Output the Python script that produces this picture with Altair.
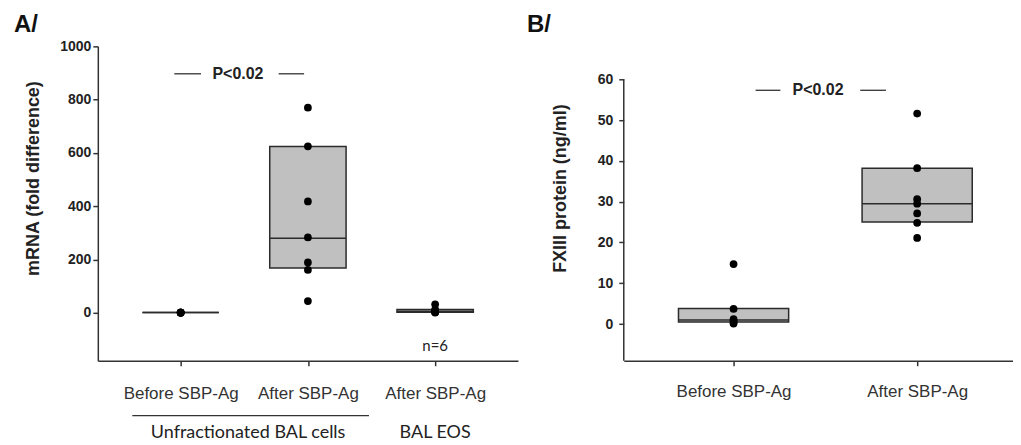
import altair as alt
import pandas as pd

# ---------------- Panel A data ----------------
a_labels = ["Before SBP-Ag", "After SBP-Ag", "After SBP-Ag"]
a_q1 = [1, 168, 2]
a_median = [1, 280, 6]
a_q3 = [1, 624, 12]
a_points = [
    [1, 1, 1, 1, 1, 1],
    [770, 625, 418, 283, 189, 161, 44],
    [32, 12, 8, 4, 2, 1],
]
a_sig_text = ["P<0.02"]
a_sig_x = [0.45]
a_sig_y = [897]
a_sig_start = [-0.05, 0.77]
a_sig_end = [0.16, 0.97]
a_group_names = ["Unfractionated BAL cells", "BAL EOS"]
a_group_x = [0.53, 2.0]
a_bracket_start = [-0.38]
a_bracket_end = [1.48]
a_n_text = ["n=6"]
a_n_x = [2.0]
a_n_y = [-124]
a_yticks = [0, 200, 400, 600, 800, 1000]

# ---------------- Panel B data ----------------
b_labels = ["Before SBP-Ag", "After SBP-Ag"]
b_q1 = [0.5, 25.0]
b_median = [1.0, 29.5]
b_q3 = [3.8, 38.2]
b_points = [
    [14.7, 3.7, 1.2, 0.8, 0.4, 0.1],
    [51.6, 38.2, 30.6, 29.5, 27.1, 24.8, 21.1],
]
b_sig_text = ["P<0.02"]
b_sig_x = [0.46]
b_sig_y = [57.3]
b_sig_start = [0.12, 0.69]
b_sig_end = [0.255, 0.83]
b_yticks = [0, 10, 20, 30, 40, 50, 60]

ARIAL = "Liberation Sans"
CALIBRI = "Lato"
BOX_HALF = 0.3


def label_expr(labels):
    arr = ",".join("'" + l + "'" for l in labels)
    return "[" + arr + "][datum.value]"


def panel(labels, q1, med, q3, points, xdom, ydom, width, height, yticks,
          ytitle, title_x, title_y, tick_pad, letter, letter_x,
          sig_text, sig_x, sig_y, sig_start, sig_end, ytop=None, xlabel_pad=18):
    boxes = pd.DataFrame({"pos": list(range(len(labels))), "q1": q1, "med": med, "q3": q3})
    pts = pd.DataFrame(
        [{"pos": i, "v": v} for i, vals in enumerate(points) for v in vals]
    )
    xs = alt.Scale(domain=xdom, nice=False, zero=False)
    ys = alt.Scale(domain=ydom, nice=False, zero=False)

    xaxis = alt.Axis(
        values=list(range(len(labels))), labelExpr=label_expr(labels), title=None,
        grid=False, tickSize=5, labelPadding=xlabel_pad, labelFont=ARIAL,
        labelFontSize=17, labelColor="#333", labelFontWeight="normal",
        labelBaseline="alphabetic",
    )
    yaxis = alt.Axis(
        values=yticks, format="d", title=ytitle, grid=False, tickSize=5,
        labelPadding=tick_pad,
        labelFont=ARIAL, labelFontSize=14, labelFontWeight="bold", labelColor="#222",
        titleFont=ARIAL, titleFontSize=18, titleFontWeight="bold", titleColor="#222",
        titleX=title_x, titleY=title_y, titleBaseline="middle", titleAlign="center",
        titleAngle=270, domain=(ytop is None),
    )

    base_b = alt.Chart(boxes).transform_calculate(
        x0="datum.pos - %g" % BOX_HALF, x1="datum.pos + %g" % BOX_HALF
    )
    rect = base_b.mark_rect(fill="#c0c0c0", stroke="#2b2b2b", strokeWidth=1.5).encode(
        x=alt.X("x0:Q", scale=xs, axis=xaxis),
        x2="x1:Q",
        y=alt.Y("q1:Q", scale=ys, axis=yaxis),
        y2="q3:Q",
    )
    medline = base_b.mark_rule(color="#2b2b2b", strokeWidth=1.5).encode(
        x=alt.X("x0:Q", scale=xs), x2="x1:Q", y=alt.Y("med:Q", scale=ys)
    )
    dots = alt.Chart(pts).mark_circle(size=60, color="black", opacity=1).encode(
        x=alt.X("pos:Q", scale=xs), y=alt.Y("v:Q", scale=ys)
    )
    sig = alt.Chart(pd.DataFrame({"t": sig_text, "x": sig_x, "y": sig_y})).mark_text(
        font=ARIAL, fontSize=16, fontWeight="bold", color="#222", align="center",
        baseline="middle",
    ).encode(x=alt.X("x:Q", scale=xs), y=alt.Y("y:Q", scale=ys), text="t:N")
    sig_lines = alt.Chart(
        pd.DataFrame({"s": sig_start, "e": sig_end, "y": sig_y * len(sig_start)})
    ).mark_rule(color="#333", strokeWidth=1.3).encode(
        x=alt.X("s:Q", scale=xs), x2="e:Q", y=alt.Y("y:Q", scale=ys)
    )
    letter_t = alt.Chart(pd.DataFrame({"t": [letter]})).mark_text(
        font=ARIAL, fontSize=24, fontWeight="bold", color="#111", align="left",
        baseline="alphabetic",
    ).encode(text="t:N", x=alt.value(letter_x), y=alt.value(-14))

    layers = [rect, medline, dots, sig_lines, sig, letter_t]
    if ytop is not None:
        dom = alt.Chart(pd.DataFrame({"lo": [ydom[0]], "hi": [ytop]})).mark_rule(
            color="#333", strokeWidth=1.5
        ).encode(x=alt.value(0), y=alt.Y("lo:Q", scale=ys), y2="hi:Q")
        layers.append(dom)
    return alt.layer(*layers).properties(width=width, height=height)


H = 315
chart_a = panel(
    a_labels, a_q1, a_median, a_q3, a_points,
    xdom=[-0.651, 2.651], ydom=[-180, 1000], width=421, height=H,
    yticks=a_yticks, ytitle="mRNA (fold difference)", title_x=-64, title_y=132,
    tick_pad=2, letter="A/", letter_x=-84,
    sig_text=a_sig_text, sig_x=a_sig_x, sig_y=a_sig_y,
    sig_start=a_sig_start, sig_end=a_sig_end, xlabel_pad=33,
)

xs_a = alt.Scale(domain=[-0.651, 2.651], nice=False, zero=False)
ys_a = alt.Scale(domain=[-180, 1000], nice=False, zero=False)
groups = alt.Chart(pd.DataFrame({"g": a_group_names, "x": a_group_x})).mark_text(
    font=CALIBRI, fontSize=18, color="#222", align="center", baseline="alphabetic"
).encode(x=alt.X("x:Q", scale=xs_a), y=alt.value(392), text="g:N")
bracket = alt.Chart(pd.DataFrame({"s": a_bracket_start, "e": a_bracket_end})).mark_rule(
    color="#333", strokeWidth=1.3
).encode(x=alt.X("s:Q", scale=xs_a), x2="e:Q", y=alt.value(370))
nlab = alt.Chart(pd.DataFrame({"t": a_n_text, "x": a_n_x, "y": a_n_y})).mark_text(
    font=CALIBRI, fontSize=15, color="#222", align="center", baseline="middle"
).encode(x=alt.X("x:Q", scale=xs_a), y=alt.Y("y:Q", scale=ys_a), text="t:N")
chart_a = alt.layer(chart_a, groups, bracket, nlab)

chart_b = panel(
    b_labels, b_q1, b_median, b_q3, b_points,
    xdom=[-0.598, 1.522], ydom=[-9, 68.07], width=390, height=H,
    yticks=b_yticks, ytitle="FXIII protein (ng/ml)", title_x=-63, title_y=142,
    tick_pad=6, letter="B/", letter_x=-97,
    sig_text=b_sig_text, sig_x=b_sig_x, sig_y=b_sig_y,
    sig_start=b_sig_start, sig_end=b_sig_end, ytop=60, xlabel_pad=31,
)

chart = alt.hconcat(chart_a, chart_b, spacing=106, bounds="flush").configure(
    padding={"left": 6, "top": 5, "right": 0, "bottom": 2}
).configure_view(stroke=None).configure_axis(
    domainColor="#333", domainWidth=1.5, tickColor="#333", tickWidth=1.5
)

chart.save("out.html", embed_options={"renderer": "svg", "actions": False})
